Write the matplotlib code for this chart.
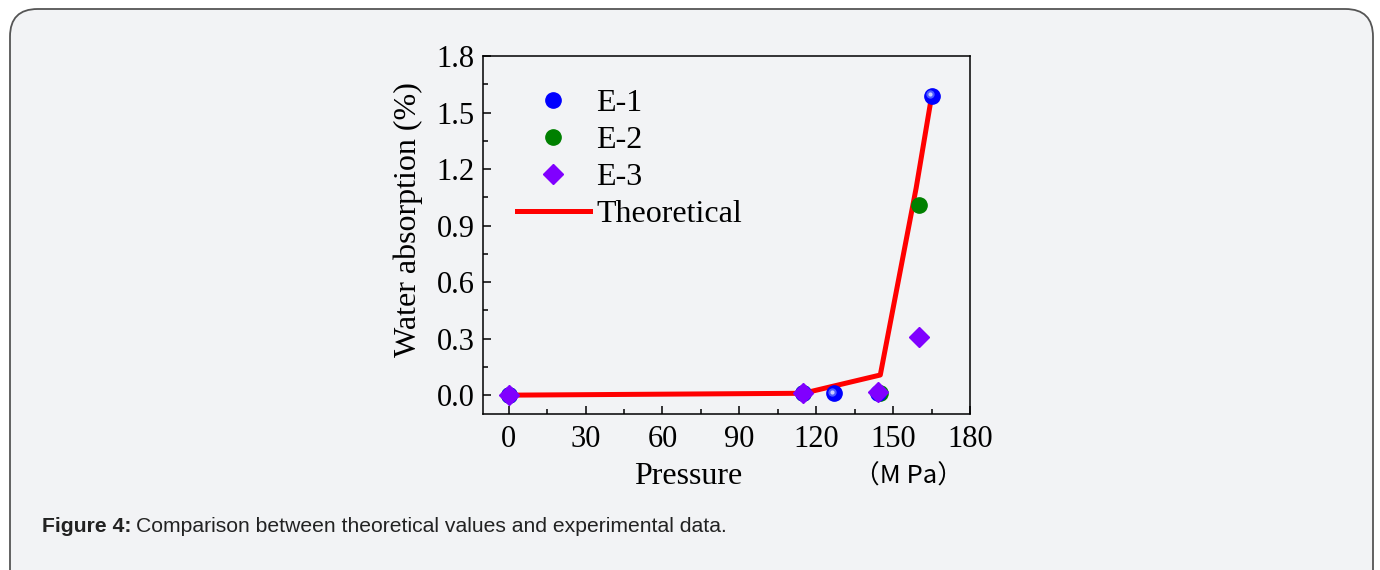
import numpy as np
import matplotlib
matplotlib.use("Agg")
import matplotlib.pyplot as plt
from matplotlib.patches import FancyBboxPatch
from matplotlib.lines import Line2D
import matplotlib.transforms as mtransforms

# data
e1_x = [0, 115, 127, 144, 165]
e1_y = [0.0, 0.01, 0.01, 0.01, 1.59]
e2_x = [0, 115, 145, 160]
e2_y = [0.0, 0.01, 0.01, 1.01]
e3_x = [0, 115, 144, 160]
e3_y = [0.0, 0.01, 0.015, 0.31]
theo_x = [0, 115, 145, 159, 165]
theo_y = [0.0, 0.01, 0.107, 1.10, 1.585]

xticks = [0, 30, 60, 90, 120, 150, 180]
yticks = [0.0, 0.3, 0.6, 0.9, 1.2, 1.5, 1.8]

bg = "#f2f3f5"
serif = "Liberation Serif"

fig = plt.figure(figsize=(13.8, 5.7), dpi=100)
fig.patch.set_facecolor("white")

# rounded panel behind everything
W, H = 1380, 570
panel = FancyBboxPatch((10 / W, -0.1), 1363 / W, (570 - 9) / H + 0.1,
                       boxstyle="round,pad=0,rounding_size=0.02",
                       transform=fig.transFigure, facecolor=bg,
                       edgecolor="#555555", linewidth=1.3, zorder=-10,
                       mutation_aspect=W / H)
fig.patches.append(panel)

ax = fig.add_axes([483 / W, 1 - 414 / H, (970 - 483) / W, (414 - 56) / H])
ax.set_facecolor(bg)

ax.plot(theo_x, theo_y, color="#ff0000", lw=3.6, zorder=2)

ax.plot(e1_x, e1_y, ls="none", marker="o", ms=11, color="#0000ff", zorder=3)
# soft highlight to give the sphere look
hl = mtransforms.offset_copy(ax.transData, fig=fig, x=-1.2, y=1.2, units="points")
ax.plot(e1_x, e1_y, ls="none", marker="o", ms=6, color="#4d5cff", mec="none",
        transform=hl, zorder=3.1)
ax.plot(e1_x, e1_y, ls="none", marker="o", ms=3, color="#c9d0ff", mec="none",
        transform=hl, zorder=3.15)
ax.plot(e2_x, e2_y, ls="none", marker="o", ms=11, color="#008000", zorder=2.9)
ax.plot(e3_x, e3_y, ls="none", marker="D", ms=10, color="#8000ff", zorder=3.2)

ax.set_xlim(-10, 180)
ax.set_ylim(-0.1, 1.8)
ax.set_xticks(xticks)
ax.set_yticks(yticks)
ax.set_xticklabels([str(v) for v in xticks])
ax.set_yticklabels(["%.1f" % v for v in yticks])
ax.set_xticks(np.arange(-15, 181, 15)[1:], minor=True)
ax.set_yticks(np.arange(0.15, 1.8, 0.3), minor=True)

for lab in ax.get_xticklabels() + ax.get_yticklabels():
    lab.set_fontfamily(serif)
    lab.set_fontsize(22)
ax.tick_params(which="both", direction="in", top=False, right=False, width=1.1)
ax.tick_params(axis="x", which="major", length=6, pad=8)
ax.tick_params(axis="y", which="major", length=6, pad=6)
ax.tick_params(which="minor", length=3.5)
for s in ax.spines.values():
    s.set_linewidth(1.1)

fig.text(688 / W, 1 - 477 / H, "Pressure", family=serif, fontsize=23,
         ha="center", va="center")
fig.text(909 / W, 1 - 477 / H, "（M Pa）", family=["Noto Sans CJK SC", "DejaVu Sans"],
         fontsize=18.5, ha="center", va="center")
fig.text(408 / W, 1 - 220 / H, "Water absorption (%)", family=serif, fontsize=23,
         rotation=90, ha="center", va="center")

handles = [
    Line2D([], [], ls="none", marker="o", ms=11, color="#0000ff"),
    Line2D([], [], ls="none", marker="o", ms=11, color="#008000"),
    Line2D([], [], ls="none", marker="D", ms=10, color="#8000ff"),
    Line2D([], [], color="#ff0000", lw=3.6),
]
ax.legend(handles, ["E-1", "E-2", "E-3", "Theoretical"], loc="upper left",
          bbox_to_anchor=(0.023, 0.972), frameon=False,
          prop={"family": serif, "size": 23}, handlelength=2.3,
          handletextpad=0.2, labelspacing=0.24, borderaxespad=0.3)

t1 = fig.text(42 / W, 1 - 527 / H, "Figure 4:", family="Liberation Sans",
              fontsize=15.2, fontweight="bold", va="center", color="#222222")
fig.canvas.draw()
bb = t1.get_window_extent()
fig.text(bb.x1 / W + 4 / W, 1 - 527 / H,
         "Comparison between theoretical values and experimental data.",
         family="Liberation Sans", fontsize=15.2, va="center", color="#222222")

fig.savefig("out.png", dpi=100, facecolor=fig.get_facecolor())
